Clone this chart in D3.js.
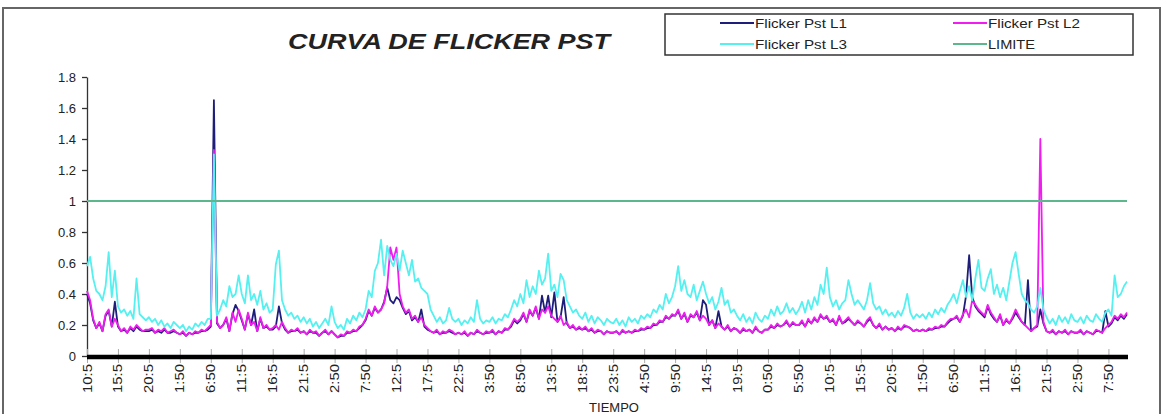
<!DOCTYPE html>
<html lang="es">
  <head>
    <meta charset="UTF-8" />
    <title>Curva de flicker Pst</title>
    <script src="https://d3js.org/d3.v7.min.js"></script>
    <style>
      body { margin: 0; background: #fff; }
      text { font-family: "Liberation Sans", Arial, sans-serif; fill: #222; }
    </style>
  </head>
  <body>
    <script>
      // one sample every 30 min, one week, first sample at 10:5x
      var tickLabels = ["10:5","15:5","20:5","1:50","6:50","11:5","16:5","21:5","2:50","7:50",
        "12:5","17:5","22:5","3:50","8:50","13:5","18:5","23:5","4:50","9:50",
        "14:5","19:5","0:50","5:50","10:5","15:5","20:5","1:50","6:50","11:5",
        "16:5","21:5","2:50","7:50"];
      var yTicks = [0, 0.2, 0.4, 0.6, 0.8, 1, 1.2, 1.4, 1.6, 1.8];
      var limite = 1;

      var pstL1 = [
        0.40,0.34,0.23,0.18,0.21,0.16,0.26,0.29,0.19,0.35,
        0.19,0.16,0.17,0.15,0.18,0.16,0.19,0.17,0.16,0.16,
        0.16,0.17,0.15,0.16,0.15,0.17,0.15,0.15,0.16,0.15,
        0.14,0.15,0.13,0.15,0.14,0.15,0.15,0.16,0.16,0.17,
        0.19,1.65,0.21,0.18,0.20,0.24,0.16,0.27,0.33,0.29,
        0.23,0.17,0.27,0.20,0.30,0.16,0.24,0.18,0.19,0.17,
        0.17,0.19,0.32,0.21,0.17,0.15,0.16,0.16,0.17,0.15,
        0.16,0.14,0.16,0.15,0.15,0.13,0.15,0.16,0.14,0.16,
        0.14,0.12,0.13,0.13,0.15,0.15,0.16,0.16,0.18,0.20,
        0.23,0.29,0.26,0.31,0.28,0.30,0.35,0.44,0.36,0.34,
        0.38,0.36,0.31,0.27,0.29,0.23,0.25,0.22,0.30,0.19,
        0.17,0.16,0.15,0.16,0.14,0.15,0.15,0.16,0.15,0.14,
        0.15,0.14,0.15,0.13,0.15,0.14,0.16,0.15,0.14,0.15,
        0.15,0.16,0.14,0.16,0.15,0.17,0.17,0.19,0.23,0.21,
        0.23,0.27,0.22,0.29,0.26,0.31,0.24,0.39,0.28,0.39,
        0.25,0.41,0.22,0.25,0.38,0.21,0.18,0.19,0.17,0.18,
        0.17,0.18,0.16,0.17,0.15,0.16,0.16,0.14,0.16,0.15,
        0.15,0.16,0.14,0.16,0.15,0.16,0.15,0.16,0.16,0.17,
        0.17,0.18,0.18,0.20,0.20,0.22,0.22,0.25,0.24,0.26,
        0.26,0.29,0.24,0.27,0.22,0.26,0.25,0.28,0.23,0.36,
        0.33,0.20,0.23,0.18,0.29,0.19,0.17,0.19,0.16,0.18,
        0.17,0.15,0.17,0.16,0.17,0.15,0.18,0.16,0.15,0.17,
        0.17,0.19,0.18,0.20,0.19,0.20,0.22,0.19,0.21,0.20,
        0.20,0.22,0.19,0.23,0.21,0.24,0.22,0.26,0.24,0.25,
        0.22,0.23,0.20,0.25,0.21,0.22,0.24,0.22,0.20,0.22,
        0.21,0.19,0.22,0.24,0.20,0.18,0.20,0.17,0.19,0.17,
        0.18,0.16,0.18,0.17,0.19,0.19,0.18,0.16,0.17,0.16,
        0.17,0.16,0.17,0.17,0.18,0.18,0.19,0.19,0.21,0.23,
        0.24,0.25,0.22,0.26,0.39,0.65,0.38,0.32,0.29,0.27,
        0.25,0.32,0.27,0.24,0.22,0.26,0.20,0.23,0.21,0.24,
        0.28,0.25,0.22,0.20,0.49,0.16,0.18,0.19,0.30,0.21,
        0.16,0.15,0.16,0.14,0.16,0.15,0.16,0.14,0.16,0.15,
        0.15,0.16,0.14,0.16,0.15,0.14,0.16,0.16,0.15,0.29,
        0.19,0.21,0.25,0.23,0.26,0.24,0.27
      ];

      var pstL2 = [
        0.42,0.36,0.24,0.18,0.22,0.16,0.27,0.30,0.19,0.24,
        0.20,0.16,0.18,0.15,0.19,0.17,0.20,0.18,0.16,0.17,
        0.17,0.18,0.15,0.17,0.16,0.18,0.15,0.16,0.17,0.15,
        0.14,0.16,0.13,0.15,0.14,0.16,0.15,0.17,0.16,0.18,
        0.20,1.33,0.22,0.18,0.20,0.25,0.16,0.28,0.22,0.30,
        0.24,0.17,0.28,0.20,0.22,0.16,0.25,0.18,0.20,0.17,
        0.18,0.20,0.17,0.22,0.18,0.15,0.17,0.16,0.18,0.15,
        0.16,0.14,0.17,0.15,0.16,0.13,0.15,0.17,0.14,0.16,
        0.14,0.12,0.14,0.13,0.16,0.15,0.17,0.16,0.19,0.20,
        0.24,0.30,0.26,0.32,0.28,0.30,0.34,0.45,0.70,0.62,
        0.70,0.40,0.32,0.28,0.30,0.24,0.26,0.22,0.25,0.20,
        0.18,0.16,0.15,0.17,0.14,0.16,0.15,0.17,0.16,0.14,
        0.15,0.14,0.16,0.13,0.15,0.14,0.17,0.15,0.14,0.16,
        0.15,0.17,0.14,0.16,0.15,0.18,0.17,0.20,0.24,0.22,
        0.24,0.28,0.22,0.30,0.26,0.32,0.24,0.30,0.28,0.32,
        0.26,0.24,0.22,0.26,0.20,0.22,0.18,0.20,0.17,0.19,
        0.17,0.19,0.16,0.18,0.15,0.17,0.16,0.14,0.16,0.15,
        0.15,0.16,0.14,0.17,0.15,0.16,0.15,0.17,0.16,0.18,
        0.17,0.19,0.18,0.21,0.20,0.23,0.22,0.26,0.24,0.27,
        0.26,0.30,0.24,0.28,0.22,0.27,0.25,0.29,0.23,0.26,
        0.24,0.20,0.23,0.18,0.21,0.19,0.17,0.20,0.16,0.18,
        0.17,0.15,0.18,0.16,0.17,0.15,0.19,0.16,0.15,0.17,
        0.17,0.20,0.18,0.21,0.19,0.20,0.23,0.19,0.22,0.20,
        0.20,0.23,0.19,0.24,0.21,0.25,0.22,0.27,0.24,0.26,
        0.22,0.24,0.20,0.26,0.21,0.23,0.25,0.22,0.20,0.23,
        0.21,0.19,0.23,0.25,0.20,0.18,0.21,0.17,0.19,0.17,
        0.18,0.16,0.19,0.17,0.20,0.19,0.18,0.16,0.17,0.16,
        0.17,0.16,0.18,0.17,0.19,0.18,0.20,0.19,0.22,0.24,
        0.24,0.26,0.22,0.27,0.30,0.25,0.36,0.33,0.30,0.28,
        0.26,0.33,0.28,0.25,0.22,0.27,0.20,0.24,0.21,0.25,
        0.30,0.26,0.22,0.20,0.18,0.16,0.18,0.20,1.40,0.22,
        0.16,0.15,0.17,0.14,0.16,0.15,0.17,0.14,0.16,0.15,
        0.15,0.17,0.14,0.16,0.15,0.14,0.17,0.16,0.15,0.18,
        0.20,0.22,0.26,0.24,0.27,0.25,0.28
      ];

      var pstL3 = [
        0.58,0.64,0.50,0.42,0.40,0.36,0.45,0.67,0.38,0.55,
        0.32,0.28,0.30,0.26,0.29,0.24,0.50,0.27,0.25,0.23,
        0.25,0.22,0.24,0.20,0.23,0.19,0.21,0.18,0.22,0.20,
        0.18,0.20,0.16,0.19,0.17,0.21,0.19,0.22,0.20,0.24,
        0.24,1.30,0.26,0.30,0.36,0.32,0.45,0.38,0.40,0.52,
        0.40,0.34,0.52,0.36,0.40,0.33,0.42,0.30,0.34,0.28,
        0.30,0.59,0.68,0.36,0.30,0.26,0.28,0.24,0.26,0.22,
        0.25,0.21,0.24,0.19,0.22,0.18,0.21,0.24,0.20,0.32,
        0.22,0.18,0.20,0.17,0.24,0.21,0.26,0.23,0.28,0.25,
        0.30,0.42,0.38,0.55,0.60,0.75,0.52,0.71,0.62,0.58,
        0.66,0.55,0.68,0.60,0.52,0.62,0.48,0.50,0.44,0.42,
        0.40,0.30,0.26,0.22,0.25,0.21,0.23,0.31,0.24,0.22,
        0.24,0.20,0.23,0.21,0.25,0.22,0.36,0.24,0.21,0.23,
        0.22,0.25,0.21,0.24,0.23,0.27,0.25,0.30,0.36,0.32,
        0.40,0.34,0.49,0.38,0.45,0.40,0.55,0.46,0.50,0.66,
        0.42,0.46,0.38,0.53,0.49,0.36,0.32,0.28,0.30,0.26,
        0.24,0.28,0.22,0.26,0.21,0.25,0.23,0.20,0.24,0.22,
        0.21,0.24,0.20,0.23,0.19,0.25,0.22,0.24,0.21,0.26,
        0.24,0.27,0.25,0.30,0.28,0.33,0.30,0.40,0.34,0.38,
        0.45,0.58,0.42,0.49,0.40,0.38,0.46,0.36,0.42,0.48,
        0.40,0.34,0.38,0.30,0.35,0.44,0.33,0.36,0.28,0.30,
        0.26,0.23,0.27,0.22,0.25,0.21,0.28,0.24,0.22,0.26,
        0.24,0.30,0.26,0.32,0.27,0.29,0.34,0.28,0.31,0.27,
        0.30,0.35,0.28,0.36,0.30,0.38,0.33,0.46,0.40,0.57,
        0.38,0.32,0.36,0.30,0.34,0.36,0.49,0.40,0.33,0.36,
        0.33,0.30,0.36,0.47,0.34,0.30,0.32,0.27,0.30,0.26,
        0.28,0.25,0.29,0.26,0.31,0.40,0.28,0.24,0.27,0.25,
        0.27,0.24,0.28,0.25,0.30,0.27,0.31,0.28,0.33,0.36,
        0.40,0.34,0.42,0.49,0.38,0.45,0.36,0.50,0.62,0.44,
        0.42,0.50,0.56,0.40,0.46,0.38,0.44,0.36,0.48,0.60,
        0.67,0.53,0.40,0.36,0.34,0.30,0.28,0.32,0.44,0.30,
        0.25,0.21,0.24,0.20,0.26,0.22,0.25,0.21,0.27,0.23,
        0.22,0.25,0.21,0.26,0.23,0.22,0.27,0.24,0.22,0.28,
        0.30,0.26,0.52,0.38,0.40,0.45,0.48
      ];

      var series = [
        { name: "Flicker Pst L1", values: pstL1, color: "#1e1e7a" },
        { name: "Flicker Pst L2", values: pstL2, color: "#f01cf0" },
        { name: "Flicker Pst L3", values: pstL3, color: "#55f0f0" }
      ];

      var width = 1161, height = 414;
      var svg = d3
        .select("body")
        .append("svg")
        .attr("width", width)
        .attr("height", height);

      // outer chart frame
      svg
        .append("rect")
        .attr("x", 3)
        .attr("y", 8)
        .attr("width", 1157)
        .attr("height", 420)
        .attr("fill", "#fff")
        .attr("stroke", "#666")
        .attr("stroke-width", 2);

      var xScale = d3.scaleLinear().domain([0, pstL1.length - 1]).range([87, 1127]);
      var yScale = d3.scaleLinear().domain([0, 1.8]).range([356, 77]);

      // y axis
      var yAxis = svg
        .append("g")
        .attr("transform", "translate(87,0)")
        .call(
          d3.axisLeft(yScale).tickValues(yTicks).tickSize(5).tickSizeOuter(0)
            .tickFormat(function (d) { return String(d); })
        );
      yAxis.select(".domain").attr("stroke", "#333").attr("stroke-width", 1.3);
      yAxis.selectAll(".tick line").attr("stroke", "#333").attr("stroke-width", 1.3);
      yAxis
        .selectAll(".tick text")
        .attr("x", -11)
        .style("font-size", "13px")
        .style("font-family", "'Liberation Sans', Arial, sans-serif")
        .attr("fill", "#333");

      // series lines
      var line = d3
        .line()
        .x(function (d, i) { return xScale(i); })
        .y(function (d) { return yScale(d); });

      svg
        .selectAll(".serie")
        .data(series)
        .enter()
        .append("path")
        .attr("class", "serie")
        .attr("d", function (d) { return line(d.values); })
        .attr("fill", "none")
        .attr("stroke", function (d) { return d.color; })
        .attr("stroke-width", 1.8)
        .attr("stroke-linejoin", "round");

      // limit line
      svg
        .append("line")
        .attr("x1", xScale(0))
        .attr("x2", xScale.range()[1])
        .attr("y1", yScale(limite))
        .attr("y2", yScale(limite))
        .attr("stroke", "#5cb88c")
        .attr("stroke-width", 2);

      // x axis: ticks every 10 samples (5 h)
      var tickIdx = tickLabels.map(function (d, i) { return i * 10; });
      var xAxis = svg
        .append("g")
        .attr("transform", "translate(0,356)")
        .call(d3.axisBottom(xScale).tickValues(tickIdx).tickSize(0).tickFormat(""));
      xAxis.select(".domain").remove();
      xAxis
        .selectAll(".tick")
        .append("line")
        .attr("y1", -7)
        .attr("y2", 7)
        .attr("stroke", "#aaa")
        .attr("stroke-width", 1);
      svg
        .append("line")
        .attr("x1", 87)
        .attr("x2", 1128)
        .attr("y1", 357)
        .attr("y2", 357)
        .attr("stroke", "#000")
        .attr("stroke-width", 4.5);

      svg
        .selectAll(".xlab")
        .data(tickLabels)
        .enter()
        .append("text")
        .attr("class", "xlab")
        .attr("transform", function (d, i) {
          return "translate(" + (xScale(tickIdx[i]) + 4.5) + ",364) rotate(-90)";
        })
        .attr("text-anchor", "end")
        .style("font-size", "12.5px")
        .attr("fill", "#333")
        .attr("textLength", 29)
        .attr("lengthAdjust", "spacingAndGlyphs")
        .text(function (d) { return d; });

      svg
        .append("text")
        .attr("x", 614)
        .attr("y", 412)
        .attr("text-anchor", "middle")
        .style("font-size", "13px")
        .attr("fill", "#333")
        .text("TIEMPO");

      // title
      svg
        .append("text")
        .attr("x", 288)
        .attr("y", 49)
        .style("font-size", "22px")
        .style("font-weight", "bold")
        .style("font-style", "italic")
        .attr("fill", "#111")
        .attr("textLength", 322)
        .attr("lengthAdjust", "spacingAndGlyphs")
        .text("CURVA DE FLICKER PST");

      // legend
      var legendItems = series.concat([{ name: "LIMITE", color: "#5cb88c" }]);
      svg
        .append("rect")
        .attr("x", 665)
        .attr("y", 14)
        .attr("width", 468)
        .attr("height", 41)
        .attr("fill", "#fff")
        .attr("stroke", "#333")
        .attr("stroke-width", 1.5);

      var legend = svg
        .selectAll(".leg")
        .data(legendItems)
        .enter()
        .append("g")
        .attr("class", "leg")
        .attr("transform", function (d, i) {
          return "translate(" + (i % 2 === 0 ? 720 : 953) + "," + (i < 2 ? 23 : 44) + ")";
        });
      legend
        .append("line")
        .attr("x1", 0)
        .attr("x2", 34)
        .attr("stroke", function (d) { return d.color; })
        .attr("stroke-width", 2);
      legend
        .append("text")
        .attr("x", 35)
        .attr("dy", "0.36em")
        .style("font-size", "13px")
        .attr("fill", "#333")
        .attr("textLength", function (d) { return d.name === "LIMITE" ? 47 : 92; })
        .attr("lengthAdjust", "spacingAndGlyphs")
        .text(function (d) { return d.name; });
    </script>
  </body>
</html>
